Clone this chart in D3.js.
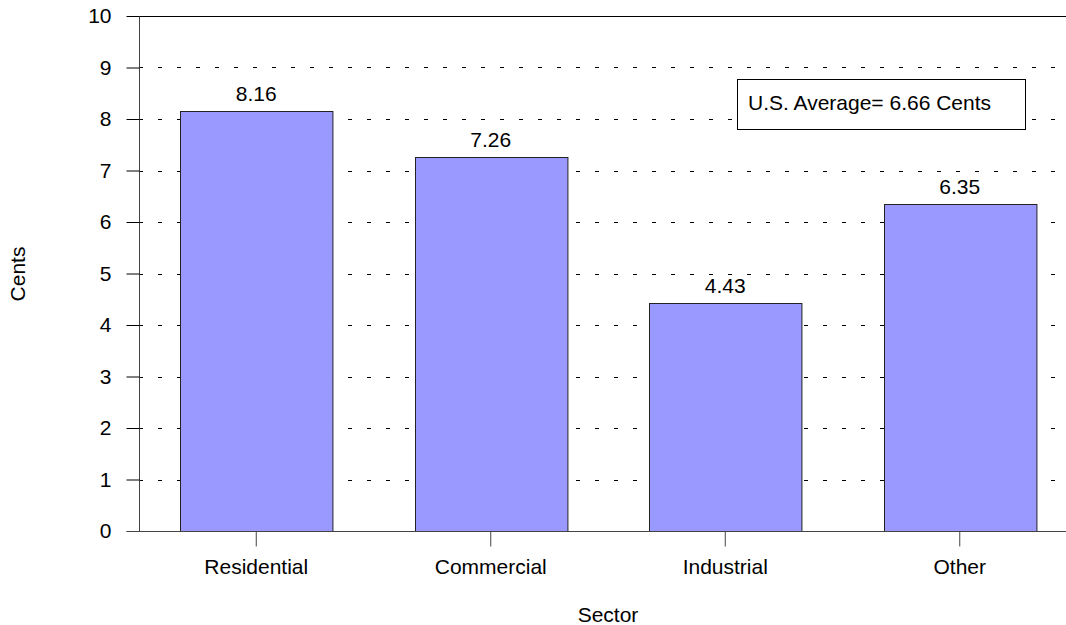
<!DOCTYPE html>
<html><head><meta charset="utf-8">
<script src="https://cdn.jsdelivr.net/npm/d3@7"></script>
<style>body{margin:0;background:#fff}svg{display:block;font-family:"Liberation Sans",Arial,sans-serif}</style>
</head><body><svg id="c" width="1066" height="625"></svg>
<script>
const categories = ["Residential","Commercial","Industrial","Other"];
const values = [8.16, 7.26, 4.43, 6.35];
const yTicks = [0,1,2,3,4,5,6,7,8,9,10];
const annotation = "U.S. Average= 6.66 Cents";
const xTitle = "Sector", yTitle = "Cents";

const FS = 21;
const svg = d3.select("#c");
const L = 139, R = 1077, T = 16, B = 531;
const x = d3.scaleBand().domain(categories).range([L, R]).paddingInner(0.35).paddingOuter(0.175);
const y = d3.scaleLinear().domain([0, 10]).range([B, T]);

// gridlines
svg.append("g").selectAll("line").data(yTicks.filter(d => d > 0 && d < 10)).join("line")
  .attr("x1", L).attr("x2", 1066).attr("y1", d => Math.round(y(d))+0.5).attr("y2", d => Math.round(y(d))+0.5)
  .attr("stroke", "#000").attr("stroke-width", 1).attr("stroke-dasharray", "4,15").attr("stroke-dashoffset", -19);
// top line
svg.append("line").attr("x1", L).attr("x2", 1066).attr("y1", T+0.5).attr("y2", T+0.5).attr("stroke", "#000");

// bars
svg.append("g").selectAll("rect").data(values).join("rect")
  .attr("x", (d,i) => Math.round(x(categories[i]))+0.5).attr("y", d => Math.round(y(d))+0.5)
  .attr("width", x.bandwidth()).attr("height", d => B - Math.round(y(d)))
  .attr("fill", "#9999ff").attr("stroke", "#222").attr("stroke-width", 1);

// value labels
svg.append("g").selectAll("text").data(values).join("text")
  .attr("x", (d,i) => x(categories[i]) + x.bandwidth()/2).attr("y", d => y(d) - 10)
  .attr("text-anchor", "middle").attr("font-size", FS).attr("fill", "#000").text(d => d.toFixed(2));

// y axis
const ya = svg.append("g").attr("transform", `translate(${L+0.5},0)`)
  .call(d3.axisLeft(y).tickValues(yTicks).tickSize(13).tickPadding(15).tickFormat(d3.format("d")));
ya.select(".domain").attr("stroke", "#444").attr("d", `M0,${B}V${T}`);
ya.selectAll(".tick line").attr("stroke", "#000");
ya.selectAll("text").attr("font-size", FS).attr("font-family", "Liberation Sans, Arial, sans-serif").attr("fill","#000");

// x axis
const xa = svg.append("g").attr("transform", `translate(0,${B+0.5})`)
  .call(d3.axisBottom(x).tickSize(15).tickPadding(13));
xa.select(".domain").attr("stroke", "#444").attr("d", `M${L-12},0H1066`);
xa.selectAll(".tick line").attr("stroke", "#444");
xa.selectAll("text").attr("font-size", FS).attr("font-family", "Liberation Sans, Arial, sans-serif").attr("fill","#000");

// titles
svg.append("text").attr("x", 608).attr("y", 622).attr("text-anchor","middle").attr("font-size",FS).text(xTitle);
svg.append("text").attr("transform","translate(25,274) rotate(-90)").attr("text-anchor","middle").attr("font-size",FS).text(yTitle);

// annotation box
svg.append("rect").attr("x", 737.5).attr("y", 79.5).attr("width", 288).attr("height", 50)
  .attr("fill","#fff").attr("stroke","#000");
svg.append("text").attr("x", 748).attr("y", 109.5).attr("font-size", FS).text(annotation);
</script></body></html>
